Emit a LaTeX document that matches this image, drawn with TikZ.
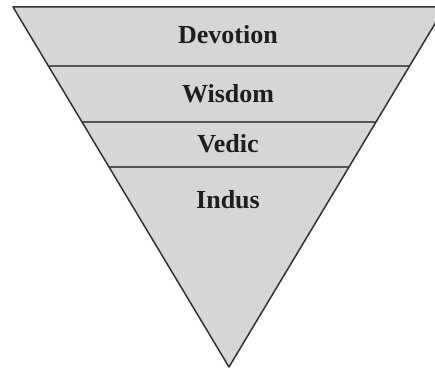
\documentclass[tikz,border=0pt]{standalone}
\usepackage{fontspec}
\setmainfont{Liberation Serif}
\usetikzlibrary{calc}
\definecolor{trifill}{RGB}{214,214,216}
\definecolor{edgecol}{RGB}{50,50,50}
\definecolor{divcol}{RGB}{85,85,85}
\definecolor{txtcol}{RGB}{30,30,30}
\begin{document}
\begin{tikzpicture}[x=1pt,y=-1pt,
  lbl/.style={font=\fontsize{26}{30}\selectfont\bfseries, text=txtcol, anchor=base, inner sep=0pt},
  edge/.style={draw=edgecol, line width=1.5pt, line join=round},
  divider/.style={draw=divcol, line width=1.8pt}]
\useasboundingbox (0,0) rectangle (435,369);
\clip (0,0) rectangle (435,369);
\coordinate (tl) at (13,7);
\coordinate (tr) at (445,7);
\coordinate (ap) at (229,367);
\fill[trifill] (tl) -- (tr) -- (ap) -- cycle;
% dividers
\foreach \y/\n in {66/a,122/b,167/c}{
  \pgfmathsetmacro{\t}{(\y-7)/360}
  \coordinate (l\n) at ($(tl)!\t!(ap)$);
  \coordinate (r\n) at ($(tr)!\t!(ap)$);
  \draw[divider] (l\n) -- (r\n);
}
\draw[edge] (tl) -- (tr) -- (ap) -- cycle;
\node[lbl] (devotion) at (228,43) {Devotion};
\node[lbl] (wisdom) at (228,102) {Wisdom};
\node[lbl] (vedic) at (228,152) {Vedic};
\node[lbl] (indus) at (228,208) {Indus};
\end{tikzpicture}
\end{document}
